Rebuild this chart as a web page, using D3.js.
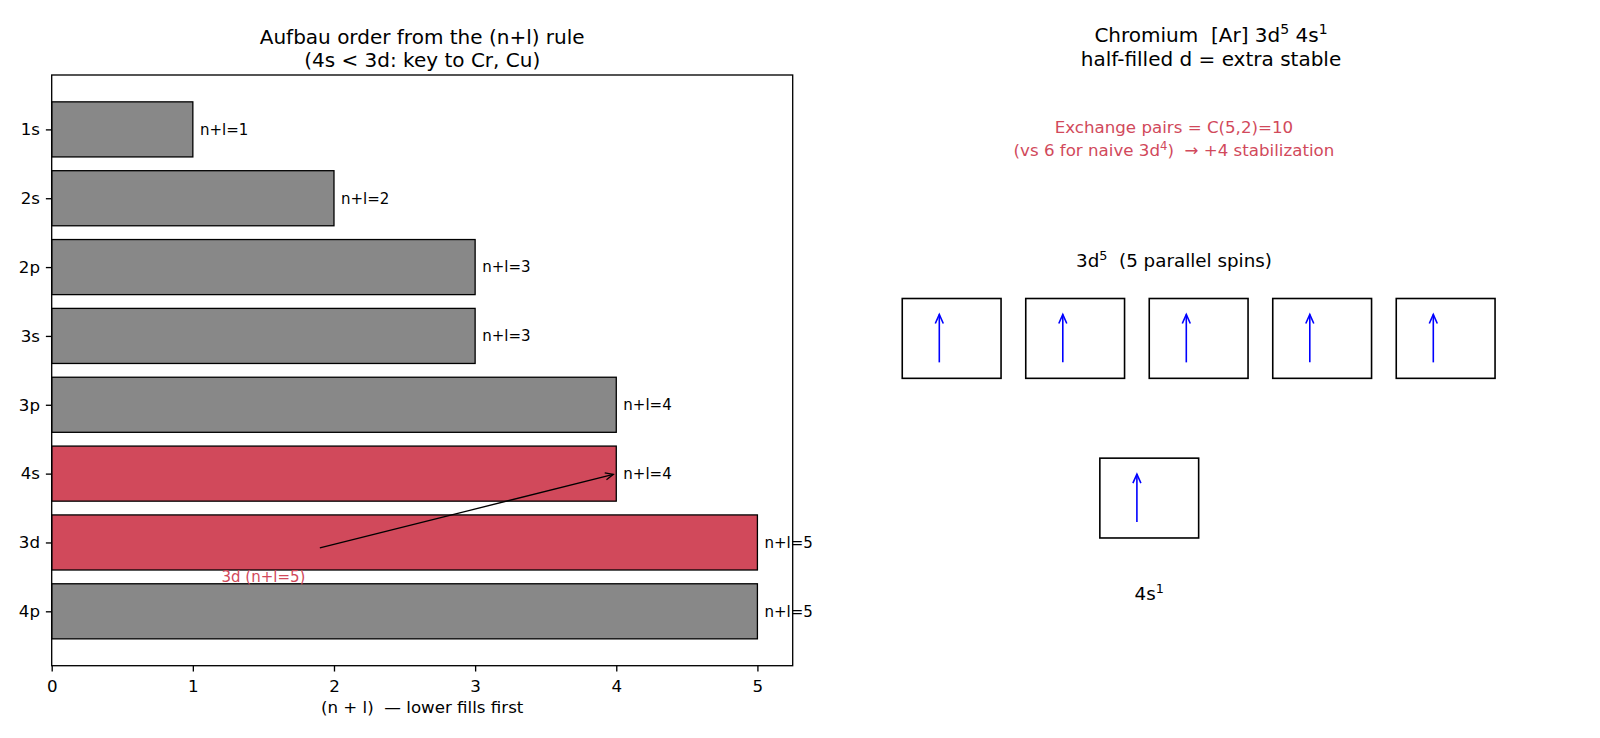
<!DOCTYPE html>
<html>
<head>
<meta charset="utf-8">
<script src="https://cdn.jsdelivr.net/npm/d3@7"></script>
<style>
  body { margin: 0; background: #fff; }
  svg { display: block; font-family: "DejaVu Sans", sans-serif; }
  svg text { white-space: pre; }
</style>
</head>
<body>
<div id="chart"></div>
<script>
// left panel data
var orbitals = ["1s", "2s", "2p", "3s", "3p", "4s", "3d", "4p"];
var nPlusL = [1, 2, 3, 3, 4, 4, 5, 5];
var highlighted = ["4s", "3d"];
var xTicks = [0, 1, 2, 3, 4, 5];

// annotation: from near 3d text to end of 4s bar
var annotText = "3d (n+l=5)";
var annotTextPos = [1.5, 6.5];
var annotFrom = [1.9, 6.08];
var annotTo = [4, 5];

// right panel data (Cr orbital diagram)
var dBoxX = [0.5, 1.5, 2.5, 3.5, 4.5];
var dSpins = [1, 1, 1, 1, 1];
var sBoxX = [2.1];
var sSpins = [1];

var w = 1600,
    h = 738;

var red = "#d1495b",
    gray = "#888888";

var svg = d3.select("#chart").append("svg")
    .attr("width", w)
    .attr("height", h);

var top0 = 75, bot0 = 665.7;

/* LEFT: aufbau bars */
var x = d3.scaleLinear().domain([0, 5.25]).range([51.7, 792.7]);
var y = d3.scaleLinear().domain([-0.79, 7.79]).range([top0, bot0]);

var left = svg.append("g");

left.selectAll("rect.bar")
    .data(orbitals)
    .enter()
    .append("rect")
    .attr("class", "bar")
    .attr("x", x(0))
    .attr("y", function (d, i) { return y(i - 0.4); })
    .attr("width", function (d, i) { return x(nPlusL[i]) - x(0); })
    .attr("height", y(0.4) - y(-0.4))
    .style("fill", function (d) { return highlighted.indexOf(d) >= 0 ? red : gray; })
    .style("stroke", "#000")
    .style("stroke-width", 1.3);

// frame
left.append("rect")
    .attr("x", x.range()[0])
    .attr("y", top0)
    .attr("width", x.range()[1] - x.range()[0])
    .attr("height", bot0 - top0)
    .style("fill", "none")
    .style("stroke", "#000")
    .style("stroke-width", 1.33);

var xAxis = left.append("g")
    .attr("transform", "translate(0," + bot0 + ")")
    .call(d3.axisBottom(x).tickValues(xTicks).tickFormat(d3.format("d")).tickSize(5.83).tickPadding(5.83));
xAxis.select(".domain").remove();
xAxis.selectAll("text").attr("dy", "0.86em");

var yAxis = left.append("g")
    .attr("transform", "translate(" + x(0) + ",0)")
    .call(d3.axisLeft(y).tickValues(d3.range(orbitals.length))
        .tickFormat(function (i) { return orbitals[i]; })
        .tickSize(5.83).tickPadding(5.83));
yAxis.select(".domain").remove();

left.selectAll(".tick text")
    .style("font-family", "DejaVu Sans")
    .style("font-size", "16.67px")
    .style("fill", "#000");
left.selectAll(".tick line").style("stroke", "#000").style("stroke-width", 1.33);

// value labels
left.selectAll("text.val")
    .data(orbitals)
    .enter()
    .append("text")
    .attr("class", "val")
    .attr("x", function (d, i) { return x(nPlusL[i] + 0.05); })
    .attr("y", function (d, i) { return y(i); })
    .attr("dy", "0.36em")
    .style("font-size", "15px")
    .text(function (d, i) { return "n+l=" + nPlusL[i]; });

// annotation
function arrow(g, x1, y1, x2, y2, color, sw, len, half, shrink) {
    var a = Math.atan2(y2 - y1, x2 - x1);
    x2 -= shrink * Math.cos(a);
    y2 -= shrink * Math.sin(a);
    g.append("line")
        .attr("x1", x1).attr("y1", y1).attr("x2", x2).attr("y2", y2)
        .style("stroke", color).style("stroke-width", sw);
    var bx = x2 - len * Math.cos(a), by = y2 - len * Math.sin(a);
    var px = -Math.sin(a) * half, py = Math.cos(a) * half;
    g.append("path")
        .attr("d", "M" + (bx + px) + "," + (by + py) + "L" + x2 + "," + y2 + "L" + (bx - px) + "," + (by - py))
        .style("fill", "none").style("stroke", color).style("stroke-width", sw)
        .style("stroke-linejoin", "miter");
}

arrow(left, x(annotFrom[0]), y(annotFrom[1]), x(annotTo[0]), y(annotTo[1]), "#000", 1.3, 8, 3.6, 3);

left.append("text")
    .attr("x", x(annotTextPos[0]))
    .attr("y", y(annotTextPos[1]))
    .attr("dy", "0.36em")
    .attr("text-anchor", "middle")
    .style("font-size", "15px")
    .style("fill", red)
    .text(annotText);

// titles
var lt = left.append("text")
    .attr("text-anchor", "middle")
    .style("font-size", "20px");
lt.append("tspan").attr("x", (x.range()[0] + x.range()[1]) / 2).attr("y", 43.8).text("Aufbau order from the (n+l) rule");
lt.append("tspan").attr("x", (x.range()[0] + x.range()[1]) / 2).attr("y", 67).text("(4s < 3d: key to Cr, Cu)");

left.append("text")
    .attr("x", (x.range()[0] + x.range()[1]) / 2)
    .attr("y", 713)
    .attr("text-anchor", "middle")
    .style("font-size", "16.67px")
    .text("(n + l)  \u2014 lower fills first");

/* RIGHT: orbital boxes */
var rx = d3.scaleLinear().domain([0, 6]).range([840.5, 1581.5]);
var ry = d3.scaleLinear().domain([-0.6, 6.8]).range([bot0, top0]);
var right = svg.append("g");

// text with superscripts: parts = [[text, isSup], ...]
function richText(g, px, py, size, color, parts) {
    var t = g.append("text")
        .attr("x", px).attr("y", py)
        .attr("text-anchor", "middle")
        .style("font-size", size + "px")
        .style("fill", color);
    var raised = false;
    parts.forEach(function (p) {
        var s = t.append("tspan").text(p[0]);
        if (p[1] && !raised) {
            s.attr("dy", -size * 0.4).style("font-size", (size * 0.7) + "px");
            raised = true;
        } else if (p[1]) {
            s.style("font-size", (size * 0.7) + "px");
        } else if (raised) {
            s.attr("dy", size * 0.4);
            raised = false;
        }
    });
    return t;
}

var cx = rx(3);
richText(right, cx, 42, 20, "#000", [["Chromium  [Ar] 3d", 0], ["5", 1], [" 4s", 0], ["1", 1]]);
richText(right, cx, 65.5, 20, "#000", [["half-filled d = extra stable", 0]]);

richText(right, rx(2.7), ry(6) - 6, 16.67, red, [["Exchange pairs = C(5,2)=10", 0]]);
richText(right, rx(2.7), ry(6) + 17.5, 16.67, red, [["(vs 6 for naive 3d", 0], ["4", 1], [")  \u2192 +4 stabilization", 0]]);

richText(right, rx(2.7), ry(4.47) + 6.5, 18.3, "#000", [["3d", 0], ["5", 1], ["  (5 parallel spins)", 0]]);
richText(right, rx(2.5), ry(0.3) + 6.5, 18.3, "#000", [["4s", 0], ["1", 1]]);

function drawBoxes(xs, spins, y0) {
    right.selectAll(null)
        .data(xs)
        .enter()
        .append("rect")
        .attr("x", function (d) { return rx(d); })
        .attr("y", ry(y0 + 1))
        .attr("width", rx(0.8) - rx(0))
        .attr("height", ry(y0) - ry(y0 + 1))
        .style("fill", "none")
        .style("stroke", "#000")
        .style("stroke-width", 1.6);
    xs.forEach(function (d, i) {
        if (spins[i] > 0) {
            arrow(right, rx(d + 0.3), ry(y0 + 0.2), rx(d + 0.3), ry(y0 + 0.8), "blue", 1.6, 9, 4, 0);
        }
    });
}

drawBoxes(dBoxX, dSpins, 3);
drawBoxes(sBoxX, sSpins, 1);
</script>
</body>
</html>
